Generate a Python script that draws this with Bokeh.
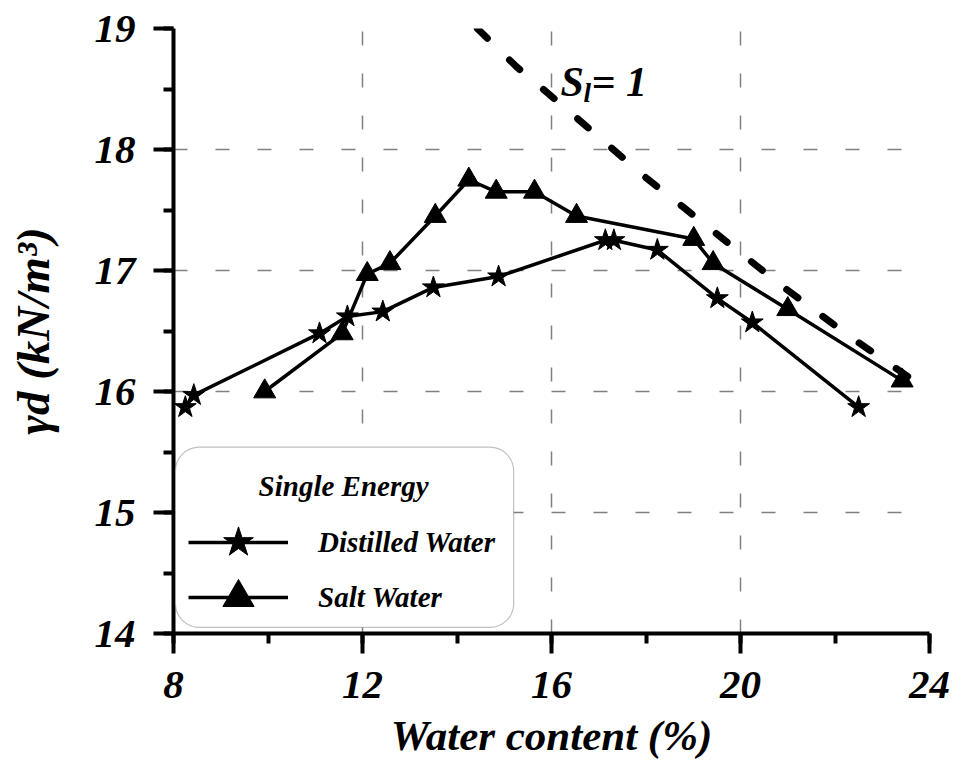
from bokeh.plotting import figure
from bokeh.models import (Range1d, SingleIntervalTicker, Legend, LegendItem,
                          Label, BoxAnnotation)
from bokeh.embed import file_html
from bokeh.resources import INLINE

# Compaction curves, single energy: water content (%) vs dry unit weight (kN/m3)
distilled_w = [8.25, 8.43, 11.09, 11.68, 12.43, 13.50, 14.88, 17.14, 17.32, 18.24, 19.51, 20.25, 22.50]
distilled_gd = [15.87, 15.97, 16.48, 16.62, 16.66, 16.86, 16.95, 17.25, 17.25, 17.17, 16.77, 16.57, 15.87]

salt_w = [9.93, 11.57, 12.10, 12.58, 13.54, 14.25, 14.83, 15.64, 16.53, 19.01, 19.42, 21.00, 23.42]
salt_gd = [16.00, 16.48, 16.97, 17.06, 17.45, 17.75, 17.65, 17.65, 17.45, 17.26, 17.06, 16.68, 16.09]

# Full-saturation line (S = 1)
sat_w = [14.43, 15.27, 15.94, 18.02, 18.80, 20.85, 22.33, 24.00]
sat_gd = [19.00, 18.68, 18.46, 17.76, 17.52, 16.88, 16.45, 16.00]

legend_title = "Single Energy"
series_names = ["Distilled Water", "Salt Water"]
x_title = "Water content (%)"
y_title = "\u03b3d (kN/m\u00b3)"

FONT = "Liberation Serif"

p = figure(width=954, height=767,
           x_range=Range1d(8, 24), y_range=Range1d(14, 19),
           output_backend="svg", toolbar_location=None,
           min_border_left=173, min_border_right=25,
           min_border_top=28, min_border_bottom=134)
p.outline_line_color = None
p.background_fill_color = "white"
p.border_fill_color = "white"

# axes
p.xaxis.ticker = SingleIntervalTicker(interval=4, num_minor_ticks=2)
p.yaxis.ticker = SingleIntervalTicker(interval=1, num_minor_ticks=2)
for ax in (p.xaxis[0], p.yaxis[0]):
    ax.axis_line_width = 4
    ax.axis_line_color = "black"
    ax.major_tick_line_width = 4
    ax.minor_tick_line_width = 4
    ax.major_tick_in = 0
    ax.major_tick_out = 20
    ax.minor_tick_in = 0
    ax.minor_tick_out = 10
    ax.major_label_text_font = FONT
    ax.major_label_text_font_style = "bold italic"
    ax.major_label_text_font_size = "41px"
    ax.major_label_text_color = "black"
    ax.axis_label_text_font = FONT
    ax.axis_label_text_font_style = "bold italic"
    ax.axis_label_text_color = "black"
p.yaxis.major_label_standoff = 18
p.xaxis.major_label_standoff = 18

p.xaxis.axis_label = x_title
p.xaxis.axis_label_text_font_size = "43px"
p.xaxis.axis_label_standoff = 11

p.yaxis.axis_label = y_title
p.yaxis.axis_label_text_font_size = "47px"
p.yaxis.axis_label_standoff = 33

# grid
for g in (p.xgrid[0], p.ygrid[0]):
    g.grid_line_color = "#808080"
    g.grid_line_width = 1.5
    g.grid_line_dash = "14 28"

# saturation line
p.line(sat_w, sat_gd, line_color="black", line_width=7,
       line_dash="14 31", line_cap="round")

# data series
r_d_line = p.line(distilled_w, distilled_gd, line_color="black", line_width=3.5)
r_d_mark = p.scatter(distilled_w, distilled_gd, marker="star", size=23,
                     fill_color="black", line_color="black")
r_s_line = p.line(salt_w, salt_gd, line_color="black", line_width=3.5)
r_s_mark = p.scatter(salt_w, salt_gd, marker="triangle", size=22,
                     fill_color="black", line_color="black")

# legend frame
box = BoxAnnotation(left=8.04, right=15.20, top=15.54, bottom=14.05,
                    fill_color="white", fill_alpha=1.0,
                    line_color="#333333", line_width=1.2,
                    border_radius=24)
p.add_layout(box)

p.add_layout(Label(x=11.6, y=15.223, text=legend_title, text_align="center",
                   text_baseline="alphabetic", text_font=FONT,
                   text_font_style="bold italic", text_font_size="29px",
                   text_color="black"))

# one legend per entry so the rows sit closer than the marker box height
legend_style = dict(padding=0, margin=0, glyph_width=100, glyph_height=78,
                    label_standoff=30, label_text_font=FONT,
                    label_text_font_style="bold italic",
                    label_text_font_size="29px", label_text_color="black",
                    border_line_color=None, background_fill_alpha=0)
legend_d = Legend(items=[LegendItem(label=series_names[0], renderers=[r_d_line, r_d_mark])],
                  location=(15, 52), **legend_style)
legend_s = Legend(items=[LegendItem(label=series_names[1], renderers=[r_s_line, r_s_mark])],
                  location=(15, -3), **legend_style)
p.add_layout(legend_d)
p.add_layout(legend_s)


def add_text(txt, x, y, size, dx=0, dy=0):
    p.add_layout(Label(x=x, y=y, x_offset=dx, y_offset=dy, text=txt,
                       text_align="left", text_baseline="alphabetic",
                       text_font=FONT, text_font_style="bold italic",
                       text_font_size=size, text_color="black"))

# S_l = 1 annotation
add_text("S", 16.19, 18.554, "42px")
add_text("l", 16.19, 18.554, "27px", dx=23, dy=-11)
add_text("= 1", 16.19, 18.554, "42px", dx=31)

open("out.html", "w").write(file_html(p, INLINE))
